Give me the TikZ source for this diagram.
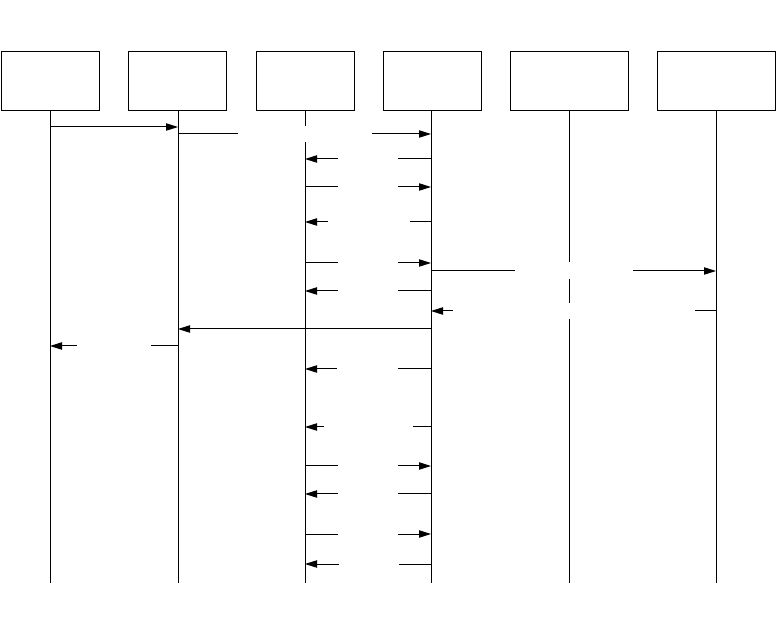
\documentclass[tikz,border=0pt]{standalone}
\usetikzlibrary{arrows.meta}
\begin{document}
\begin{tikzpicture}[x=0.75pt,y=-0.75pt,
  line width=0.75pt,
  pbox/.style={draw=black,fill=white,inner sep=0pt,minimum height=59*0.75pt},
  life/.style={draw=black,line width=0.75pt},
  msg/.style={draw=black,-{Triangle[length=9pt,width=5.5pt]}},
  mask/.style={fill=white,draw=none,inner sep=0pt,minimum height=16*0.75pt}]
\useasboundingbox (0,0) rectangle (776,638);
% participants
\node[pbox,minimum width=98*0.75pt] (p1) at (50,81.5) {};
\node[pbox,minimum width=98*0.75pt] (p2) at (177.5,81.5) {};
\node[pbox,minimum width=98*0.75pt] (p3) at (305,81.5) {};
\node[pbox,minimum width=98*0.75pt] (p4) at (432,81.5) {};
\node[pbox,minimum width=118*0.75pt] (p5) at (569.5,81.5) {};
\node[pbox,minimum width=118*0.75pt] (p6) at (716,81.5) {};
% lifeline ends
\coordinate (e1) at (50,583);
\coordinate (e2) at (178,583);
\coordinate (e3) at (305,583);
\coordinate (e4) at (431,583);
\coordinate (e5) at (569,583);
\coordinate (e6) at (716,583);
\draw[life] (p1.south -| e1) -- (e1);
\draw[life] (p2.south -| e2) -- (e2);
\draw[life] (p3.south -| e3) -- (e3);
\draw[life] (p4.south -| e4) -- (e4);
\draw[life] (p5.south -| e5) -- (e5);
\draw[life] (p6.south -| e6) -- (e6);
% message end points
\foreach \n/\y in {a/127,b/134,c/159,d/187,e/222,f/263,g/271,h/291,i/311,j/329,k/346,l/369,m/427,n/466,o/494,p/534,q/564}{
  \coordinate (L1\n) at (50,\y);
  \coordinate (L2\n) at (178,\y);
  \coordinate (L3\n) at (305,\y);
  \coordinate (L4\n) at (431,\y);
  \coordinate (L6\n) at (716,\y);
}
% messages
\draw[msg] (L1a) -- (L2a);
\draw[msg] (L2b) -- (L4b);
\draw[msg] (L4c) -- (L3c);
\draw[msg] (L3d) -- (L4d);
\draw[msg] (L4e) -- (L3e);
\draw[msg] (L3f) -- (L4f);
\draw[msg] (L4g) -- (L6g);
\draw[msg] (L4h) -- (L3h);
\draw[msg] (L6i) -- (L4i);
\draw[msg] (L4j) -- (L2j);
\draw[msg] (L2k) -- (L1k);
\draw[msg] (L4l) -- (L3l);
\draw[msg] (L4m) -- (L3m);
\draw[msg] (L3n) -- (L4n);
\draw[msg] (L4o) -- (L3o);
\draw[msg] (L3p) -- (L4p);
\draw[msg] (L4q) -- (L3q);
% label backgrounds (text not shown)
\node[mask,minimum width=134*0.75pt] (mb) at (305,134) {};
\node[mask,minimum width=60*0.75pt] (mc) at (368,159) {};
\node[mask,minimum width=60*0.75pt] (md) at (368,187) {};
\node[mask,minimum width=82*0.75pt] (me) at (369,222) {};
\node[mask,minimum width=60*0.75pt] (mf) at (368,263) {};
\node[mask,minimum width=118*0.75pt,minimum height=17*0.75pt] (mg) at (574,270.7) {};
\node[mask,minimum width=60*0.75pt] (mh) at (368,291) {};
\node[mask,minimum width=242*0.75pt] (mi) at (574,311) {};
\node[mask,minimum width=74*0.75pt] (mk) at (114,346) {};
\node[mask,minimum width=61*0.75pt] (ml) at (367.5,369) {};
\node[mask,minimum width=89*0.75pt] (mm) at (368.5,427) {};
\node[mask,minimum width=60*0.75pt] (mn) at (368,466) {};
\node[mask,minimum width=60*0.75pt] (mo) at (368,494) {};
\node[mask,minimum width=60*0.75pt] (mp) at (368,534) {};
\node[mask,minimum width=60*0.75pt] (mq) at (369,564) {};
\end{tikzpicture}
\end{document}
